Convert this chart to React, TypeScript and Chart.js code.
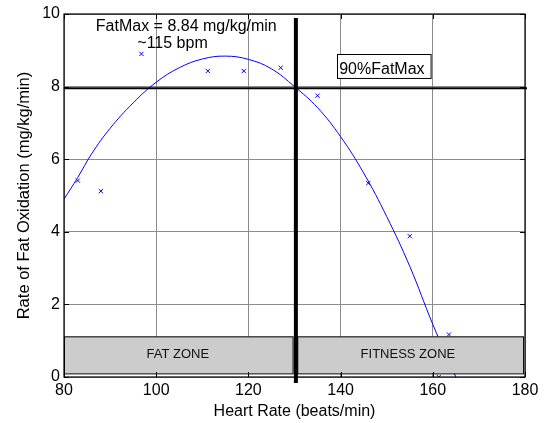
import React, { useEffect, useRef } from "react";
import { Chart, registerables } from "chart.js";

Chart.register(...registerables);

// Fitted curve
const hrFit = [80, 83, 86, 90, 95, 100, 105, 110, 115, 120, 125, 130, 135, 140, 145, 150, 155, 160, 165];
const fatFit = [4.9, 5.5, 6.15, 6.85, 7.55, 8.12, 8.52, 8.76, 8.84, 8.75, 8.49, 8.0, 7.42, 6.62, 5.62, 4.42, 3.05, 1.45, 0.0];

// Observed points
const hrObs = [83, 88, 96.8, 111.2, 119, 127, 135, 146, 155, 163.5, 161.3];
const fatObs = [5.41, 5.12, 8.9, 8.43, 8.43, 8.52, 7.75, 5.34, 3.88, 1.17, 0];

const xTicks = [80, 100, 120, 140, 160, 180];
const yTicks = [0, 2, 4, 6, 8, 10];

const fatMax = 8.84;
const fatMaxHr = 130.3;
const ninetyPct = 0.9 * fatMax;

const FONT = "'Liberation Sans', Arial, sans-serif";

const overlayPlugin = {
  id: "overlay",
  afterDatasetsDraw(chart: any) {
    const { ctx, chartArea, scales } = chart;
    const xs = scales.x;
    const ys = scales.y;
    const { left, right, top, bottom } = chartArea;
    ctx.save();

    // zone boxes
    const zoneTop = ys.getPixelForValue(1.12);
    const zoneBot = ys.getPixelForValue(0.1);
    const drawZone = (x0: number, x1: number, label: string, cx: number) => {
      const px0 = xs.getPixelForValue(x0);
      const px1 = xs.getPixelForValue(x1);
      ctx.fillStyle = "#cccccc";
      ctx.fillRect(px0, zoneTop, px1 - px0, zoneBot - zoneTop);
      ctx.strokeStyle = "#000";
      ctx.lineWidth = 1;
      ctx.strokeRect(px0 + 0.5, zoneTop + 0.5, px1 - px0 - 1, zoneBot - zoneTop);
      ctx.fillStyle = "#111";
      ctx.font = `13px ${FONT}`;
      ctx.textAlign = "center";
      ctx.textBaseline = "middle";
      ctx.fillText(label, xs.getPixelForValue(cx), (zoneTop + zoneBot) / 2);
    };
    drawZone(80, 129.8, "FAT ZONE", 104.7);
    drawZone(130.6, 179.8, "FITNESS ZONE", 154.6);

    // horizontal 90% line
    const hy = ys.getPixelForValue(ninetyPct);
    ctx.strokeStyle = "#000";
    ctx.lineWidth = 2;
    ctx.beginPath();
    ctx.moveTo(left, hy);
    ctx.lineTo(right + 2, hy);
    ctx.stroke();

    // vertical thick line
    const vx = xs.getPixelForValue(fatMaxHr);
    ctx.lineWidth = 4;
    ctx.beginPath();
    ctx.moveTo(vx, ys.getPixelForValue(9.89));
    ctx.lineTo(vx, bottom + 6);
    ctx.stroke();

    // border
    ctx.lineWidth = 1.2;
    ctx.strokeRect(left, top, right - left, bottom - top);

    // inward ticks
    ctx.lineWidth = 1;
    ctx.beginPath();
    xTicks.forEach((t) => {
      const p = Math.round(xs.getPixelForValue(t)) + 0.5;
      ctx.moveTo(p, bottom);
      ctx.lineTo(p, bottom - 5);
      ctx.moveTo(p, top);
      ctx.lineTo(p, top + 5);
    });
    yTicks.forEach((t) => {
      const p = Math.round(ys.getPixelForValue(t)) + 0.5;
      ctx.moveTo(left, p);
      ctx.lineTo(left + 5, p);
      ctx.moveTo(right, p);
      ctx.lineTo(right - 5, p);
    });
    ctx.stroke();

    // texts
    ctx.fillStyle = "#000";
    ctx.font = `16px ${FONT}`;
    ctx.textAlign = "left";
    ctx.textBaseline = "alphabetic";
    ctx.fillText("FatMax = 8.84 mg/kg/min", xs.getPixelForValue(86.9), ys.getPixelForValue(9.54));
    ctx.fillText("~115 bpm", xs.getPixelForValue(95.9), ys.getPixelForValue(9.07));

    // 90% FatMax box
    const bx0 = xs.getPixelForValue(139.2);
    const bx1 = xs.getPixelForValue(159.5);
    const by0 = ys.getPixelForValue(8.89);
    const by1 = ys.getPixelForValue(8.23);
    ctx.fillStyle = "#fff";
    ctx.fillRect(bx0, by0, bx1 - bx0, by1 - by0);
    ctx.strokeStyle = "#000";
    ctx.lineWidth = 1;
    ctx.strokeRect(Math.round(bx0) + 0.5, Math.round(by0) + 0.5, bx1 - bx0, by1 - by0);
    ctx.fillStyle = "#000";
    ctx.fillText("90%FatMax", xs.getPixelForValue(139.7), ys.getPixelForValue(8.36));

    ctx.restore();
  },
};

export default function App() {
  const ref = useRef<HTMLCanvasElement>(null);

  useEffect(() => {
    if (!ref.current) return;
    const chart = new Chart(ref.current, {
      type: "scatter",
      data: {
        datasets: [
          {
            data: hrFit.map((x, i) => ({ x, y: fatFit[i] })),
            showLine: true,
            borderColor: "#0000ff",
            borderWidth: 1,
            pointRadius: 0,
            tension: 0.4,
          },
          {
            data: hrObs.map((x, i) => ({ x, y: fatObs[i] })),
            showLine: false,
            pointStyle: "crossRot",
            pointRadius: 3,
            borderColor: "#0000ff",
            borderWidth: 1,
            backgroundColor: "#0000ff",
          },
        ],
      } as any,
      options: {
        animation: false,
        responsive: false,
        devicePixelRatio: 1,
        layout: { padding: { left: 0, top: 14, right: 22, bottom: 0 } },
        plugins: { legend: { display: false }, tooltip: { enabled: false } },
        scales: {
          x: {
            type: "linear",
            min: 80,
            max: 180,
            afterFit: (s: any) => {
              s.height = 46;
            },
            afterBuildTicks: (s: any) => {
              s.ticks = xTicks.map((v) => ({ value: v }));
            },
            border: { display: false },
            grid: { color: "#8c8c8c", lineWidth: 1, drawTicks: false },
            ticks: { color: "#000", padding: 4, font: { family: FONT, size: 16 }, maxRotation: 0 },
            title: {
              display: true,
              text: "Heart Rate (beats/min)",
              color: "#000",
              font: { family: FONT, size: 16 },
              padding: { top: 0, bottom: 2 },
            },
          },
          y: {
            type: "linear",
            min: 0,
            max: 10,
            afterFit: (s: any) => {
              s.width = 64;
            },
            afterBuildTicks: (s: any) => {
              s.ticks = yTicks.map((v) => ({ value: v }));
            },
            border: { display: false },
            grid: { color: "#8c8c8c", lineWidth: 1, drawTicks: false },
            ticks: { color: "#000", padding: 4, font: { family: FONT, size: 16 } },
            title: {
              display: true,
              text: "Rate of Fat Oxidation (mg/kg/min)",
              color: "#000",
              font: { family: FONT, size: 16.5 },
              padding: { top: 15, bottom: 0 },
            },
          },
        },
      } as any,
      plugins: [overlayPlugin],
    });
    return () => chart.destroy();
  }, []);

  return (
    <div style={{ position: "fixed", left: 0, top: 0, width: 547, height: 423, background: "#fff" }}>
      <canvas ref={ref} width={547} height={423} style={{ width: 547, height: 423, display: "block" }} />
    </div>
  );
}
